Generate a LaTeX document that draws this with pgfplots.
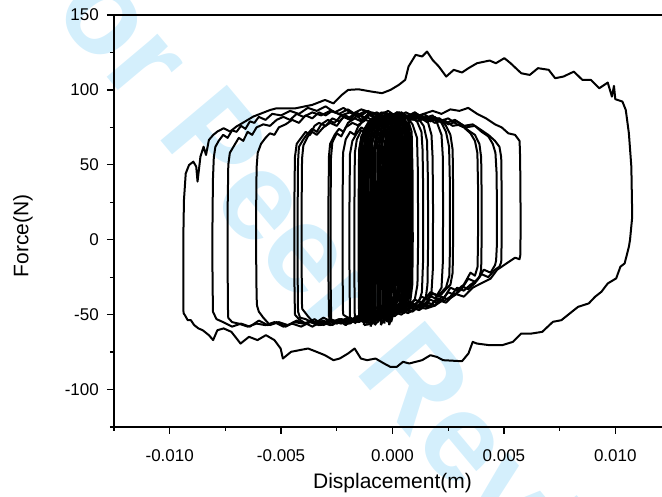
\documentclass[border=0pt]{standalone}
\usepackage{fontspec}
\setmainfont{Liberation Sans}
\usepackage{pgfplots}
\pgfplotsset{compat=1.18}
\definecolor{wm}{RGB}{212,239,252}
\begin{document}
\begin{tikzpicture}
\node[rotate=-50, text=wm, font=\fontsize{126}{126}\selectfont\bfseries, inner sep=0pt] at (238pt,128pt) {For Peer Review};
\begin{axis}[
 scale only axis, width=557pt, height=412pt, at={(0pt,0pt)}, anchor=south west,
 xmin=-0.0125, xmax=0.0125, ymin=-125, ymax=150,
 axis line style={line width=1.5pt},
 tick style={line width=1.3pt, black},
 tick align=outside, tick pos=left,
 major tick length=7pt, minor tick length=4pt,
 xtick={-0.01,-0.005,0,0.005,0.01},
 minor xtick={-0.0125,-0.0075,-0.0025,0.0025,0.0075},
 ytick={-100,-50,0,50,100,150},
 minor ytick={-125,-75,-25,25,75,125},
 scaled x ticks=false,
 xticklabel style={/pgf/number format/fixed, /pgf/number format/fixed zerofill, /pgf/number format/precision=3, anchor=base, inner sep=0pt, yshift=-28pt},
 yticklabel style={anchor=east, inner sep=0pt, xshift=-8pt},
 /pgf/number format/assume math mode=true,
 tick label style={font=\fontsize{17}{19}\selectfont},
 every axis x label/.style={at={(axis description cs:0.5,-0.136)}, anchor=center, font=\fontsize{21}{23}\selectfont},
 every axis y label/.style={at={(axis description cs:-0.1634,0.464)}, rotate=90, anchor=center, font=\fontsize{21}{23}\selectfont},
 xlabel={Displacement(m)}, ylabel={Force(N)},
 cycle list={{black, solid, mark=none}},
 every axis plot post/.append style={black, solid, mark=none, line width=2pt, line join=round},
]
% outer loop A
\addplot coordinates {(-0.00938,-49) (-0.00939,-29) (-0.00939,0) (-0.00936,26.5) (-0.00928,44.3) (-0.00913,49.9) (-0.00894,52.1) (-0.00881,48.8) (-0.00875,38.8) (-0.00862,55.5) (-0.00848,62.1) (-0.00837,56.6) (-0.00824,66.6) (-0.00805,69.9) (-0.00786,72.2) (-0.00758,74.4) (-0.00729,72.2) (-0.00701,75.5) (-0.00663,78.8) (-0.00625,82.2) (-0.00587,84.4) (-0.00549,86.6) (-0.00521,87.7) (-0.00436,87.7) (-0.0036,90) (-0.00303,93.3) (-0.00265,91) (-0.00227,96.7) (-0.00199,100) (-0.00152,100.4) (-0.00095,98.9) (-0.00047,97.8) (-0.00009,100) (0.00028,103.3) (0.00057,106.7) (0.00072,115.6) (0.00104,123.4) (0.00133,122.3) (0.00155,125.6) (0.0018,120) (0.00208,115.6) (0.00241,108.9) (0.00275,113.4) (0.00312,111.6) (0.00341,114.5) (0.00379,117.8) (0.00436,119.6) (0.00464,117.8) (0.00502,121.2) (0.0053,117.8) (0.00578,111.1) (0.00616,110) (0.00653,114.5) (0.00701,113.4) (0.0073,107.8) (0.00767,108.9) (0.00814,112.2) (0.00852,106.7) (0.0089,106.7) (0.00928,101.1) (0.00966,104.9) (0.00985,95.5) (0.00994,102.7) (0.01,93.8) (0.01032,92.2) (0.01047,86.6) (0.01061,71) (0.01072,48.8) (0.01076,15.4) (0.01066,-0.2) (0.01061,-4.7) (0.01042,-15.8) (0.01023,-18) (0.01004,-25.8) (0.00966,-29.2) (0.00938,-34.7) (0.00909,-38.1) (0.00881,-42.5) (0.00833,-44.8) (0.00805,-48.1) (0.00758,-53.7) (0.0072,-54.8) (0.00672,-61.5) (0.00625,-62.6) (0.00578,-62.6) (0.0054,-68.2) (0.00492,-70.4) (0.00436,-70.4) (0.00379,-69.3) (0.0036,-68.2) (0.00341,-75.9) (0.00312,-81.1) (0.00275,-80.8) (0.00227,-80.4) (0.00199,-78.2) (0.0017,-77.1) (0.00133,-80.4) (0.00104,-81.5) (0.00076,-82.6) (0.00047,-81.5) (0.00019,-84.9) (-0.00009,-84.9) (-0.00038,-82.6) (-0.00076,-79.3) (-0.00114,-80.4) (-0.00142,-79.3) (-0.0017,-72.6) (-0.00199,-75.9) (-0.00237,-79.3) (-0.00265,-80.4) (-0.00303,-77.1) (-0.00341,-74.8) (-0.00379,-72.6) (-0.00417,-73.7) (-0.00455,-74.8) (-0.00492,-79.3) (-0.00502,-72.6) (-0.0053,-67) (-0.00568,-63.7) (-0.00606,-67) (-0.00644,-64.8) (-0.00682,-69.3) (-0.00723,-61.5) (-0.00758,-59.2) (-0.00786,-60.4) (-0.00805,-67) (-0.00824,-63.7) (-0.00852,-60.4) (-0.00871,-59.2) (-0.0089,-57) (-0.00905,-53.7) (-0.00919,-53.7) (-0.00932,-50.3) (-0.00938,-49)};
% loop B
\addplot coordinates {(-0.00806,-48) (-0.00808,-20) (-0.00808,10) (-0.00806,40) (-0.00802,55) (-0.00795,62) (-0.0078,66) (-0.0076,70) (-0.0074,68) (-0.0072,73) (-0.007,72) (-0.0068,76) (-0.0066,74) (-0.0064,79) (-0.0062,78) (-0.006,82) (-0.0057,80) (-0.0054,84) (-0.005,83) (-0.0046,86) (-0.0042,84) (-0.0038,88) (-0.0034,86) (-0.003,89) (-0.0026,85) (-0.0022,88) (-0.0018,84) (-0.0014,87) (-0.001,85) (-0.0006,83) (-0.0002,86) (0.0002,82) (0.0006,85) (0.001,82) (0.0014,84) (0.0018,86) (0.0022,84) (0.0026,87) (0.003,86) (0.0034,88) (0.0038,84) (0.0042,81) (0.0046,77) (0.0049,75) (0.0052,71) (0.0055,70) (0.0057,66) (0.00572,60) (0.00574,40) (0.00575,10) (0.00574,-10) (0.0057,-13) (0.0055,-12) (0.0053,-14) (0.005,-17) (0.0047,-20) (0.0044,-26) (0.004,-29) (0.0036,-32) (0.0032,-38) (0.0028,-36) (0.0024,-42) (0.002,-40) (0.0016,-45) (0.0012,-44) (0.0008,-48) (0.0004,-46) (0,-50) (-0.0004,-48) (-0.0008,-52) (-0.0012,-50) (-0.0016,-54) (-0.002,-52) (-0.0024,-55) (-0.0028,-53) (-0.0032,-57) (-0.0036,-54) (-0.004,-56) (-0.0044,-55) (-0.0048,-58) (-0.0052,-55) (-0.0056,-57) (-0.006,-54) (-0.0064,-58) (-0.0068,-56) (-0.0072,-58) (-0.0076,-55) (-0.0079,-53) (-0.00806,-48)};
% loop C
\addplot coordinates {(-0.00738,-52) (-0.0074,-20) (-0.0074,20) (-0.00737,50) (-0.0073,58) (-0.0071,63) (-0.0069,68) (-0.0067,66) (-0.0065,72) (-0.0063,70) (-0.0061,75) (-0.0058,77) (-0.0055,76) (-0.0052,80) (-0.0049,82) (-0.0046,80) (-0.0043,84) (-0.004,82) (-0.0036,85) (-0.0032,83) (-0.0028,86) (-0.0024,84) (-0.002,87) (-0.0016,83) (-0.0012,86) (-0.0008,82) (-0.0004,85) (0,81) (0.0004,84) (0.0008,80) (0.0012,83) (0.0016,79) (0.002,81) (0.0024,78) (0.0028,80) (0.0032,76) (0.0036,77) (0.004,73) (0.0043,70) (0.0046,66) (0.0048,62) (0.00488,55) (0.0049,30) (0.0049,0) (0.00488,-15) (0.0048,-18) (0.0046,-20) (0.0043,-25) (0.004,-23) (0.0037,-29) (0.0034,-33) (0.0031,-31) (0.0028,-37) (0.0025,-40) (0.0022,-38) (0.0019,-44) (0.0015,-46) (0.0011,-45) (0.0007,-49) (0.0003,-47) (-0.0001,-52) (-0.0005,-50) (-0.0009,-54) (-0.0013,-52) (-0.0017,-55) (-0.0021,-53) (-0.0025,-56) (-0.0029,-54) (-0.0033,-57) (-0.0037,-55) (-0.0041,-58) (-0.0045,-56) (-0.0049,-58) (-0.0053,-55) (-0.0057,-57) (-0.0061,-56) (-0.0065,-58) (-0.0069,-56) (-0.0072,-55) (-0.00738,-52)};
% loop D
\addplot coordinates {(-0.00608,-44) (-0.0061,-38) (-0.00612,-10) (-0.00612,20) (-0.0061,48) (-0.00605,58) (-0.0059,64) (-0.0057,68) (-0.0055,71) (-0.0053,70) (-0.0051,75) (-0.0048,77) (-0.0045,80) (-0.0042,78) (-0.0039,83) (-0.0036,81) (-0.0033,85) (-0.003,83) (-0.0027,86) (-0.0023,83) (-0.0019,85) (-0.0015,82) (-0.0011,86) (-0.0007,83) (-0.0003,85) (0.0001,81) (0.0005,84) (0.0009,80) (0.0013,83) (0.0017,79) (0.0021,81) (0.0025,77) (0.0029,79) (0.0033,75) (0.0037,76) (0.004,72) (0.0043,69) (0.0045,64) (0.00462,58) (0.00467,45) (0.00469,20) (0.00468,-5) (0.00465,-14) (0.0046,-17) (0.0044,-22) (0.0041,-20) (0.0038,-27) (0.0035,-30) (0.0032,-34) (0.0029,-32) (0.0026,-38) (0.0023,-41) (0.002,-39) (0.0017,-44) (0.0013,-43) (0.0009,-48) (0.0005,-46) (0.0001,-51) (-0.0003,-49) (-0.0007,-53) (-0.0011,-51) (-0.0015,-55) (-0.0019,-52) (-0.0023,-56) (-0.0027,-54) (-0.0031,-57) (-0.0035,-53) (-0.0039,-56) (-0.0043,-54) (-0.0047,-57) (-0.0051,-55) (-0.0055,-57) (-0.0058,-52) (-0.006,-48) (-0.00608,-44)};
% loop E
\addplot coordinates {(-0.00438,-50) (-0.0044,-30) (-0.0044,0) (-0.0044,30) (-0.00438,55) (-0.0043,64) (-0.0041,68) (-0.0039,72) (-0.0037,70) (-0.0035,76) (-0.0033,78) (-0.003,76) (-0.0027,81) (-0.0024,79) (-0.0021,83) (-0.0018,80) (-0.0015,84) (-0.0012,81) (-0.0009,85) (-0.0005,82) (-0.0001,84) (0.0003,80) (0.0007,83) (0.0011,79) (0.0015,82) (0.0019,78) (0.0023,80) (0.0027,76) (0.0031,77) (0.0034,73) (0.0037,70) (0.0039,64) (0.00398,55) (0.004,30) (0.004,0) (0.00398,-20) (0.0039,-25) (0.0037,-28) (0.0034,-26) (0.0031,-33) (0.0028,-37) (0.0025,-35) (0.0022,-41) (0.0019,-44) (0.0016,-42) (0.0012,-47) (0.0008,-45) (0.0004,-50) (0,-48) (-0.0004,-53) (-0.0008,-51) (-0.0012,-55) (-0.0016,-52) (-0.002,-56) (-0.0024,-54) (-0.0028,-57) (-0.0032,-55) (-0.0036,-58) (-0.004,-55) (-0.0042,-53) (-0.00438,-50)};
% loop F
\addplot coordinates {(-0.00424,-48) (-0.00426,-20) (-0.00426,15) (-0.00424,52) (-0.0042,62) (-0.004,67) (-0.0038,71) (-0.0036,74) (-0.0034,72) (-0.0032,77) (-0.0029,80) (-0.0026,78) (-0.0023,83) (-0.002,81) (-0.0017,84) (-0.0014,80) (-0.0011,83) (-0.0007,85) (-0.0003,81) (0.0001,84) (0.0005,81) (0.0009,84) (0.0013,80) (0.0017,82) (0.0021,79) (0.0025,81) (0.0029,77) (0.0032,75) (0.0035,71) (0.0037,66) (0.00381,58) (0.00384,35) (0.00384,5) (0.00382,-18) (0.0037,-24) (0.0035,-22) (0.0032,-30) (0.0029,-34) (0.0026,-32) (0.0023,-39) (0.002,-42) (0.0017,-40) (0.0013,-46) (0.0009,-44) (0.0005,-49) (0.0001,-47) (-0.0003,-52) (-0.0007,-50) (-0.0011,-54) (-0.0015,-51) (-0.0019,-55) (-0.0023,-53) (-0.0027,-57) (-0.0031,-54) (-0.0035,-56) (-0.0039,-53) (-0.00415,-52) (-0.00424,-48)};
% loop G
\addplot coordinates {(-0.00406,-46) (-0.00408,-15) (-0.00408,20) (-0.00406,54) (-0.004,63) (-0.0038,69) (-0.0036,72) (-0.0034,70) (-0.0031,75) (-0.0028,78) (-0.0025,76) (-0.0022,82) (-0.0019,80) (-0.0016,85) (-0.0013,81) (-0.001,84) (-0.0006,80) (-0.0002,83) (0.0002,79) (0.0006,83) (0.001,80) (0.0014,84) (0.0018,80) (0.0021,81) (0.0024,76) (0.0026,70) (0.0027,60) (0.00272,35) (0.00272,0) (0.0027,-22) (0.0026,-30) (0.0024,-33) (0.0021,-38) (0.0018,-36) (0.0015,-42) (0.0012,-45) (0.0009,-43) (0.0005,-48) (0.0001,-46) (-0.0003,-51) (-0.0007,-49) (-0.0011,-53) (-0.0015,-51) (-0.0019,-56) (-0.0023,-53) (-0.0027,-55) (-0.0031,-52) (-0.0035,-56) (-0.0038,-51) (-0.00406,-46)};
% loop H
\addplot coordinates {(-0.00285,-52) (-0.00288,-20) (-0.00288,20) (-0.00285,56) (-0.0028,64) (-0.0026,70) (-0.0024,74) (-0.0022,72) (-0.002,78) (-0.0017,81) (-0.0014,79) (-0.0011,84) (-0.0008,81) (-0.0005,85) (-0.0001,82) (0.0003,85) (0.0007,81) (0.0011,84) (0.0015,80) (0.0019,82) (0.0022,78) (0.0024,72) (0.00254,62) (0.00258,35) (0.00258,-5) (0.00255,-24) (0.0024,-32) (0.0022,-35) (0.0019,-39) (0.0016,-37) (0.0013,-43) (0.001,-46) (0.0007,-44) (0.0003,-49) (-0.0001,-47) (-0.0005,-52) (-0.0009,-50) (-0.0013,-55) (-0.0017,-52) (-0.0021,-57) (-0.0024,-54) (-0.0027,-55) (-0.00285,-52)};
% loop I
\addplot coordinates {(-0.00275,-55) (-0.00278,-25) (-0.00278,20) (-0.00276,55) (-0.0027,65) (-0.0025,71) (-0.0023,69) (-0.0021,75) (-0.0018,78) (-0.0015,76) (-0.0012,82) (-0.0009,80) (-0.0006,84) (-0.0002,81) (0.0002,85) (0.0006,82) (0.001,85) (0.0014,81) (0.0018,83) (0.002,78) (0.0022,70) (0.00226,55) (0.00227,20) (0.00226,-15) (0.0022,-32) (0.002,-37) (0.0017,-35) (0.0014,-41) (0.0011,-44) (0.0008,-42) (0.0004,-48) (0,-46) (-0.0004,-51) (-0.0008,-49) (-0.0012,-54) (-0.0016,-51) (-0.002,-56) (-0.0024,-53) (-0.00275,-55)};
% loop J
\addplot coordinates {(-0.00222,-50) (-0.00224,-20) (-0.00224,25) (-0.00222,58) (-0.0021,67) (-0.0019,72) (-0.0017,70) (-0.0015,77) (-0.0012,80) (-0.0009,78) (-0.0006,83) (-0.0002,80) (0.0002,84) (0.0006,81) (0.001,85) (0.0013,81) (0.0016,78) (0.00175,70) (0.0018,55) (0.00182,20) (0.00181,-20) (0.00175,-35) (0.0016,-40) (0.0013,-38) (0.001,-44) (0.0007,-47) (0.0003,-45) (-0.0001,-50) (-0.0005,-48) (-0.0009,-53) (-0.0013,-51) (-0.0017,-55) (-0.002,-52) (-0.00222,-50)};
% loop K
\addplot coordinates {(-0.00191,-53) (-0.00193,-20) (-0.00193,25) (-0.00191,57) (-0.0018,66) (-0.0016,71) (-0.0014,75) (-0.0012,73) (-0.0009,79) (-0.0006,82) (-0.0003,80) (0.0001,84) (0.0005,81) (0.0009,84) (0.0012,80) (0.0014,76) (0.00155,66) (0.00159,40) (0.0016,0) (0.00157,-30) (0.0015,-38) (0.0013,-42) (0.001,-40) (0.0007,-46) (0.0003,-44) (-0.0001,-50) (-0.0005,-48) (-0.0009,-53) (-0.0013,-50) (-0.0016,-55) (-0.00191,-53)};
% loop L
\addplot coordinates {(-0.00169,-56) (-0.00171,-25) (-0.00171,20) (-0.00169,58) (-0.0016,67) (-0.0014,73) (-0.0012,71) (-0.001,77) (-0.0007,81) (-0.0004,79) (0,84) (0.0004,80) (0.0008,83) (0.0011,79) (0.0013,72) (0.00135,60) (0.00138,30) (0.00137,-15) (0.00132,-35) (0.0012,-41) (0.0009,-44) (0.0006,-42) (0.0002,-47) (-0.0002,-45) (-0.0006,-51) (-0.001,-49) (-0.0013,-54) (-0.0015,-52) (-0.00169,-56)};
% loop M
\addplot coordinates {(-0.0015,-52) (-0.00152,-20) (-0.00152,25) (-0.0015,60) (-0.0014,69) (-0.0012,74) (-0.001,72) (-0.0007,79) (-0.0004,82) (0,80) (0.0004,85) (0.0007,81) (0.0009,77) (0.0011,68) (0.00114,45) (0.00115,0) (0.00112,-30) (0.001,-40) (0.0007,-44) (0.0004,-42) (0,-48) (-0.0004,-46) (-0.0008,-52) (-0.0012,-50) (-0.0015,-52)};
% dense centre loops
\addplot coordinates {(-0.00142,-54) (-0.00144,-20) (-0.00144,30) (-0.00142,63) (-0.0013,73) (-0.0011,78) (-0.0008,76) (-0.0005,82) (-0.0002,79) (0.0001,84) (0.0004,80) (0.0007,78) (0.00082,68) (0.00085,40) (0.00086,0) (0.00084,-30) (0.0007,-42) (0.0004,-46) (0.0001,-44) (-0.0002,-50) (-0.0005,-48) (-0.0008,-54) (-0.0011,-51) (-0.00142,-54)};
\addplot coordinates {(-0.00135,-50) (-0.00137,-15) (-0.00137,35) (-0.00135,64) (-0.0012,74) (-0.001,80) (-0.0007,77) (-0.0004,83) (-0.0001,80) (0.0002,85) (0.0005,81) (0.00072,76) (0.00079,62) (0.00081,20) (0.0008,-25) (0.0007,-40) (0.0004,-44) (0.0001,-49) (-0.0002,-46) (-0.0005,-52) (-0.0008,-49) (-0.0011,-55) (-0.00135,-50)};
\addplot coordinates {(-0.00128,-57) (-0.0013,-20) (-0.0013,30) (-0.00128,62) (-0.0012,72) (-0.001,77) (-0.0007,81) (-0.0004,78) (-0.0001,84) (0.0002,81) (0.0005,83) (0.00068,74) (0.00073,55) (0.00075,10) (0.00073,-30) (0.0006,-43) (0.0003,-47) (0,-45) (-0.0003,-51) (-0.0006,-49) (-0.0009,-56) (-0.00128,-57)};
\addplot coordinates {(-0.0012,-52) (-0.00122,-10) (-0.00122,35) (-0.0012,64) (-0.0011,73) (-0.0009,79) (-0.0006,76) (-0.0003,82) (0,79) (0.0003,85) (0.00055,80) (0.00065,68) (0.00069,30) (0.00068,-20) (0.0006,-38) (0.0003,-44) (0,-42) (-0.0003,-48) (-0.0006,-46) (-0.0009,-53) (-0.0012,-52)};
\addplot coordinates {(-0.00113,-55) (-0.00115,-20) (-0.00115,30) (-0.00113,63) (-0.001,74) (-0.0008,80) (-0.0005,77) (-0.0002,83) (0.0001,79) (0.0004,84) (0.00058,75) (0.00062,50) (0.00063,0) (0.0006,-32) (0.0005,-42) (0.0002,-46) (-0.0001,-44) (-0.0004,-50) (-0.0007,-48) (-0.001,-56) (-0.00113,-55)};
\addplot coordinates {(-0.00105,-50) (-0.00107,-15) (-0.00107,35) (-0.00105,64) (-0.0009,75) (-0.0007,81) (-0.0004,78) (-0.0001,84) (0.0002,80) (0.0004,82) (0.00053,70) (0.00057,35) (0.00056,-20) (0.0005,-38) (0.0002,-45) (-0.0001,-43) (-0.0004,-49) (-0.0007,-47) (-0.0009,-53) (-0.00105,-50)};
\addplot coordinates {(-0.00098,-58) (-0.001,-20) (-0.001,30) (-0.00098,63) (-0.0009,72) (-0.0007,78) (-0.0004,82) (-0.0001,79) (0.0002,85) (0.00044,77) (0.0005,55) (0.00051,5) (0.00049,-30) (0.0004,-42) (0.0001,-47) (-0.0002,-45) (-0.0005,-51) (-0.0008,-49) (-0.00098,-58)};
\addplot coordinates {(-0.0009,-53) (-0.00092,-10) (-0.00092,35) (-0.0009,65) (-0.0008,74) (-0.0006,79) (-0.0003,76) (0,83) (0.0003,80) (0.0004,72) (0.00044,45) (0.00045,-5) (0.00043,-33) (0.0003,-44) (0,-48) (-0.0003,-46) (-0.0006,-52) (-0.0009,-53)};
\addplot coordinates {(-0.00082,-56) (-0.00084,-20) (-0.00084,30) (-0.00082,62) (-0.0007,73) (-0.0005,80) (-0.0002,77) (0.0001,83) (0.0003,79) (0.00036,65) (0.00039,25) (0.00038,-25) (0.0003,-40) (0,-45) (-0.0003,-43) (-0.0006,-50) (-0.00082,-56)};
\addplot coordinates {(-0.00075,-51) (-0.00077,-15) (-0.00077,35) (-0.00075,63) (-0.0006,74) (-0.0004,81) (-0.0001,78) (0.0002,84) (0.0003,74) (0.00033,40) (0.00032,-15) (0.0003,-36) (0.0001,-44) (-0.0002,-49) (-0.0005,-47) (-0.00075,-51)};
\addplot coordinates {(-0.00067,-55) (-0.00069,-20) (-0.00069,30) (-0.00067,64) (-0.0005,75) (-0.0003,79) (0,83) (0.0002,78) (0.00025,60) (0.00027,10) (0.00025,-30) (0.0001,-43) (-0.0002,-47) (-0.0005,-52) (-0.00067,-55)};
\addplot coordinates {(-0.0006,-50) (-0.00062,-10) (-0.00062,35) (-0.0006,63) (-0.0005,73) (-0.0003,80) (-0.0001,77) (0.0001,82) (0.00018,70) (0.00021,30) (0.0002,-20) (0.0001,-40) (-0.0001,-46) (-0.0004,-44) (-0.0006,-50)};
\addplot coordinates {(-0.00052,-57) (-0.00054,-20) (-0.00054,30) (-0.00052,62) (-0.0004,73) (-0.0002,80) (0,84) (0.0001,76) (0.00014,50) (0.00015,0) (0.00013,-32) (0,-45) (-0.0003,-50) (-0.00052,-57)};
\addplot coordinates {(-0.00045,-52) (-0.00047,-15) (-0.00047,35) (-0.00045,64) (-0.0003,75) (-0.0001,81) (0.00005,74) (0.00009,40) (0.00008,-15) (0.00005,-38) (-0.0001,-47) (-0.0003,-45) (-0.00045,-52)};
\addplot coordinates {(-0.00037,-56) (-0.00039,-20) (-0.00039,30) (-0.00037,63) (-0.0002,76) (0,80) (0.00002,55) (0.00003,5) (0.00001,-30) (-0.0001,-44) (-0.0003,-50) (-0.00037,-56)};
\addplot coordinates {(-0.0003,-51) (-0.00032,-10) (-0.00032,35) (-0.0003,65) (-0.0002,77) (-0.00005,72) (-0.00003,30) (-0.00004,-20) (-0.0001,-42) (-0.0002,-48) (-0.0003,-51)};
\addplot coordinates {(-0.00146,-53) (-0.00148,-10) (-0.00148,35) (-0.00146,62) (-0.0013,72) (-0.001,79) (-0.0007,76) (-0.0004,82) (-0.0001,79) (0.0002,84) (0.0005,79) (0.00063,68) (0.00066,30) (0.00065,-20) (0.0006,-38) (0.0003,-45) (0,-43) (-0.0003,-50) (-0.0006,-48) (-0.0009,-54) (-0.0012,-52) (-0.00146,-53)};
\addplot coordinates {(-0.00125,-55) (-0.00127,-20) (-0.00127,30) (-0.00125,64) (-0.0011,75) (-0.0008,80) (-0.0005,77) (-0.0002,83) (0.0001,80) (0.0004,85) (0.0007,80) (0.00086,72) (0.0009,45) (0.00091,0) (0.00089,-30) (0.0008,-41) (0.0005,-45) (0.0002,-43) (-0.0001,-49) (-0.0004,-47) (-0.0007,-52) (-0.001,-50) (-0.00125,-55)};
\addplot coordinates {(-0.00108,-52) (-0.0011,-15) (-0.0011,30) (-0.00108,63) (-0.0009,74) (-0.0006,80) (-0.0003,77) (0,82) (0.00026,72) (0.0003,40) (0.00031,-10) (0.00028,-35) (0.0001,-44) (-0.0002,-48) (-0.0005,-46) (-0.0008,-53) (-0.00108,-52)};
\addplot coordinates {(-0.0008,-57) (-0.00082,-20) (-0.00082,30) (-0.0008,63) (-0.0006,75) (-0.0003,81) (0,77) (0.0001,70) (0.00012,40) (0.00013,-10) (0.0001,-35) (-0.0001,-45) (-0.0004,-50) (-0.0008,-57)};
\addplot coordinates {(-0.00058,-53) (-0.0006,-15) (-0.0006,30) (-0.00058,64) (-0.0004,74) (-0.0001,80) (0.0002,77) (0.00032,65) (0.00035,30) (0.00034,-20) (0.0003,-38) (0,-46) (-0.0003,-49) (-0.00058,-53)};
\addplot coordinates {(-0.00028,-50) (-0.0003,-15) (-0.0003,30) (-0.00028,64) (-0.0001,76) (0.0002,82) (0.0005,78) (0.00067,68) (0.0007,35) (0.00071,-15) (0.00068,-36) (0.0005,-43) (0.0002,-47) (-0.0001,-45) (-0.00028,-50)};
% extra centre loops filling the gap near zero
\addplot coordinates {(-0.00024,-55) (-0.00026,-20) (-0.00026,30) (-0.00024,63) (-0.0001,75) (0.0002,81) (0.0004,78) (0.00056,70) (0.0006,40) (0.00061,-10) (0.00058,-34) (0.0004,-44) (0.0001,-49) (-0.00024,-55)};
\addplot coordinates {(-0.00019,-51) (-0.00021,-15) (-0.00021,35) (-0.00019,64) (0,77) (0.0003,83) (0.0006,79) (0.00075,70) (0.00079,40) (0.0008,-10) (0.00077,-33) (0.0006,-43) (0.0003,-46) (0,-48) (-0.00019,-51)};
\addplot coordinates {(-0.00015,-57) (-0.00017,-20) (-0.00017,30) (-0.00015,62) (0,74) (0.0002,80) (0.00042,74) (0.00047,45) (0.00048,-5) (0.00046,-32) (0.0003,-44) (0,-50) (-0.00015,-57)};
\addplot coordinates {(-0.0001,-52) (-0.00012,-15) (-0.00012,35) (-0.0001,64) (0.0001,76) (0.0004,82) (0.00062,76) (0.00067,50) (0.00068,0) (0.00066,-30) (0.0005,-42) (0.0002,-47) (-0.0001,-52)};
\addplot coordinates {(-0.00006,-55) (-0.00008,-20) (-0.00008,30) (-0.00006,63) (0.0001,74) (0.00022,68) (0.00025,35) (0.00026,-15) (0.00023,-36) (0.0001,-46) (-0.00006,-55)};
\addplot coordinates {(-0.0014,-54) (-0.00142,-15) (-0.00142,35) (-0.0014,63) (-0.0012,75) (-0.0009,81) (-0.0006,78) (-0.0003,74) (-0.00018,62) (-0.00015,30) (-0.00016,-20) (-0.0002,-40) (-0.0004,-47) (-0.0007,-45) (-0.001,-51) (-0.0014,-54)};
\addplot coordinates {(-0.00118,-56) (-0.0012,-20) (-0.0012,30) (-0.00118,64) (-0.001,76) (-0.0007,80) (-0.0004,76) (-0.00024,66) (-0.0002,35) (-0.00021,-15) (-0.00025,-38) (-0.0005,-46) (-0.0008,-50) (-0.00118,-56)};
\addplot coordinates {(-0.00094,-52) (-0.00096,-15) (-0.00096,35) (-0.00094,63) (-0.0007,75) (-0.0004,81) (-0.00015,74) (-0.00008,55) (-0.00006,10) (-0.00008,-28) (-0.0002,-42) (-0.0005,-48) (-0.00094,-52)};
\end{axis}
\pgfresetboundingbox
\path[use as bounding box] (-114pt,-70pt) rectangle (548pt,427pt);
\end{tikzpicture}
\end{document}
